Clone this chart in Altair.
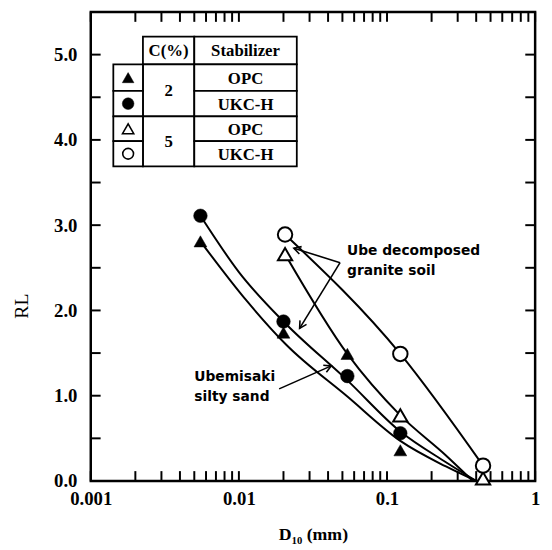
import math
import altair as alt
import pandas as pd

# ---------------- data ----------------
tri_fill_x = [0.0055, 0.020, 0.054, 0.123]      # ▲  C=2 %, OPC
tri_fill_y = [2.81, 1.74, 1.49, 0.36]
cir_fill_x = [0.0055, 0.020, 0.054, 0.123]      # ●  C=2 %, UKC-H
cir_fill_y = [3.11, 1.87, 1.23, 0.56]
tri_open_x = [0.0205, 0.123, 0.445]             # △  C=5 %, OPC
tri_open_y = [2.66, 0.77, 0.03]
cir_open_x = [0.0205, 0.123, 0.445]             # ○  C=5 %, UKC-H
cir_open_y = [2.89, 1.49, 0.18]

# fitted (hand drawn) curves
silty_a_x = [0.0055, 0.010, 0.020, 0.054, 0.123, 0.25, 0.40]
silty_a_y = [3.11, 2.45, 1.87, 1.18, 0.58, 0.22, 0.0]
silty_b_x = [0.0055, 0.0112, 0.0208, 0.054, 0.123, 0.25, 0.40]
silty_b_y = [2.81, 2.12, 1.60, 0.99, 0.47, 0.17, 0.0]
granite_a_x = [0.0205, 0.054, 0.123, 0.25, 0.38]
granite_a_y = [2.66, 1.49, 0.77, 0.30, 0.0]
granite_b_x = [0.0205, 0.123, 0.445]
granite_b_y = [2.89, 1.49, 0.18]

# axis ticks / labels
x_labels = [0.001, 0.01, 0.1, 1]
x_ticks = [m * 10.0 ** k for k in (-3, -2, -1) for m in range(1, 10)] + [1]
y_labels = [0, 1, 2, 3, 4, 5]
y_ticks = [0, 0.5, 1, 1.5, 2, 2.5, 3, 3.5, 4, 4.5, 5]

# legend table (column edges in D10, row edges in RL)
tab_cols = [0.00142, 0.00225, 0.0050, 0.0246]
tab_rows = [5.21, 4.885, 4.575, 4.275, 3.985, 3.69]
tab_head = ["C(%)", "Stabilizer"]
tab_conc = ["2", "5"]
tab_stab = ["OPC", "UKC-H", "OPC", "UKC-H"]

# annotations
note_text = ["Ube decomposed", "granite soil", "Ubemisaki", "silty sand"]
note_x = [0.0537, 0.0537, 0.0050, 0.0050]
note_y = [2.70, 2.46, 1.22, 0.99]
arrow_x1 = [0.0482, 0.0482, 0.0187]
arrow_y1 = [2.56, 2.56, 1.08]
arrow_x2 = [0.0235, 0.0257, 0.0420]
arrow_y2 = [2.73, 1.79, 1.35]

# ---------------- chart ----------------
W, H = 451, 476
XMIN, XMAX = 0.001, 1.0
YMAX = 5.5
XS = alt.Scale(type="log", domain=[XMIN, XMAX], nice=False)
YS = alt.Scale(domain=[0, YMAX], nice=False, zero=False)
SERIF = "Liberation Serif"
SANS = "DejaVu Sans"


def xpx(v):
    return (math.log10(v) + 3) / 3 * W


def ypx(v):
    return H - v / YMAX * H


AX_X = alt.Axis(orient="bottom", values=x_labels, format="~g", ticks=False, tickSize=0,
                domain=False, grid=False, labelFlush=False, labelOverlap=False,
                labelFont=SERIF, labelFontWeight="bold", labelFontSize=19,
                labelColor="black", labelPadding=9,
                title="D₁₀ (mm)", titleFont=SERIF, titleFontWeight="bold",
                titleFontSize=18, titleColor="black", titleY=54,
                titleBaseline="middle", titleAlign="center")
AX_Y = alt.Axis(orient="left", values=y_labels, format=".1f", ticks=False, tickSize=0,
                domain=False, grid=False, labelOverlap=False,
                labelFont=SERIF, labelFontWeight="bold", labelFontSize=19,
                labelColor="black", labelPadding=14,
                title="RL", titleFont=SERIF, titleFontWeight="normal",
                titleFontSize=20, titleColor="black", titleAngle=270,
                titleX=-70, titleY=298, titleAlign="center", titleBaseline="middle")


def X(field):
    return alt.X(field, scale=XS, axis=AX_X)


def Y(field):
    return alt.Y(field, scale=YS, axis=AX_Y)


# inward tick marks on all four sides (tick lengths in px converted to the scales)
ty = 10 / H * YMAX
tx_l = XMIN * 10 ** (10 / W * 3)
tx_r = XMAX / 10 ** (10 / W * 3)
xt_df = pd.DataFrame({"xt": x_ticks})
yt_df = pd.DataFrame({"yt": y_ticks})
TK = dict(color="black", strokeWidth=2)
tick_bottom = alt.Chart(xt_df.assign(a=0.0, b=ty)).mark_rule(**TK).encode(
    x=X("xt:Q"), y=Y("a:Q"), y2="b:Q")
tick_top = alt.Chart(xt_df.assign(a=YMAX - ty, b=YMAX)).mark_rule(**TK).encode(
    x=X("xt:Q"), y=Y("a:Q"), y2="b:Q")
tick_left = alt.Chart(yt_df.assign(a=XMIN, b=tx_l)).mark_rule(**TK).encode(
    y=Y("yt:Q"), x=X("a:Q"), x2="b:Q")
tick_right = alt.Chart(yt_df.assign(a=tx_r, b=XMAX)).mark_rule(**TK).encode(
    y=Y("yt:Q"), x=X("a:Q"), x2="b:Q")

# curves
curve_rows = []
for name, xs, ys in [("sa", silty_a_x, silty_a_y), ("sb", silty_b_x, silty_b_y),
                     ("ga", granite_a_x, granite_a_y), ("gb", granite_b_x, granite_b_y)]:
    for a, b in zip(xs, ys):
        curve_rows.append({"x": a, "y": b, "curve": name})
lines = alt.Chart(pd.DataFrame(curve_rows)).mark_line(
    color="black", strokeWidth=2, interpolate="monotone").encode(
    x=X("x:Q"), y=Y("y:Q"), detail="curve:N")


def markers(xs, ys, shape, filled, size, sw):
    df = pd.DataFrame({"x": xs, "y": ys})
    if filled:
        mk = alt.Chart(df).mark_point(shape=shape, filled=True, fill="black",
                                      stroke="black", strokeWidth=0.5, size=size, opacity=1)
    else:
        mk = alt.Chart(df).mark_point(shape=shape, filled=True, fill="white",
                                      stroke="black", strokeWidth=sw, size=size, opacity=1)
    return mk.encode(x=X("x:Q"), y=Y("y:Q"))


pts = [
    markers(tri_fill_x, tri_fill_y, "triangle-up", True, 170, 0),
    markers(cir_fill_x, cir_fill_y, "circle", True, 190, 0),
    markers(tri_open_x, tri_open_y, "triangle-up", False, 210, 2),
    markers(cir_open_x, cir_open_y, "circle", False, 215, 2),
]

# arrows
arr_df = pd.DataFrame({"x1": arrow_x1, "y1": arrow_y1, "x2": arrow_x2, "y2": arrow_y2})
arr_df["ang"] = [math.degrees(math.atan2(ypx(b2) - ypx(b1), xpx(a2) - xpx(a1))) % 360
                 for a1, b1, a2, b2 in zip(arrow_x1, arrow_y1, arrow_x2, arrow_y2)]
rules = alt.Chart(arr_df).mark_rule(color="black", strokeWidth=1.6).encode(
    x=X("x1:Q"), y=Y("y1:Q"), x2="x2:Q", y2="y2:Q")
heads = alt.Chart(arr_df).mark_point(
    shape="M-1,-0.55L0,0L-1,0.55", filled=False, stroke="black", strokeWidth=1.6,
    size=200, opacity=1).encode(
    x=X("x2:Q"), y=Y("y2:Q"), angle=alt.Angle("ang:Q", scale=None))

# annotation text
notes = alt.Chart(pd.DataFrame({"x": note_x, "y": note_y, "t": note_text})).mark_text(
    align="left", baseline="middle", font=SANS, fontWeight="bold", fontSize=14,
    color="black").encode(x=X("x:Q"), y=Y("y:Q"), text="t:N")

# legend table
c0, c1, c2, c3 = tab_cols
r = tab_rows
cells = [(c1, c2, r[0], r[1]), (c2, c3, r[0], r[1]),
         (c1, c2, r[1], r[3]), (c1, c2, r[3], r[5])]
for i in range(4):
    cells.append((c0, c1, r[i + 1], r[i + 2]))
    cells.append((c2, c3, r[i + 1], r[i + 2]))
cell_df = pd.DataFrame(cells, columns=["xa", "xb", "ya", "yb"])
table = alt.Chart(cell_df).mark_rect(fill="white", stroke="black", strokeWidth=1.8).encode(
    x=X("xa:Q"), x2="xb:Q", y=Y("ya:Q"), y2="yb:Q")


def gmid(a, b):
    return math.sqrt(a * b)


txt_rows = [
    (gmid(c1, c2), (r[0] + r[1]) / 2, tab_head[0]),
    (gmid(c2, c3), (r[0] + r[1]) / 2, tab_head[1]),
    (gmid(c1, c2), (r[1] + r[3]) / 2, tab_conc[0]),
    (gmid(c1, c2), (r[3] + r[5]) / 2, tab_conc[1]),
]
for i, s in enumerate(tab_stab):
    txt_rows.append((gmid(c2, c3), (r[i + 1] + r[i + 2]) / 2, s))
table_txt = alt.Chart(pd.DataFrame(txt_rows, columns=["x", "y", "t"])).mark_text(
    align="center", baseline="middle", font=SERIF, fontWeight="bold", fontSize=17,
    color="black", dy=1).encode(x=X("x:Q"), y=Y("y:Q"), text="t:N")

sx = gmid(c0, c1)
leg = [
    markers([sx], [(r[1] + r[2]) / 2], "triangle-up", True, 140, 0),
    markers([sx], [(r[2] + r[3]) / 2], "circle", True, 140, 0),
    markers([sx], [(r[3] + r[4]) / 2], "triangle-up", False, 130, 1.6),
    markers([sx], [(r[4] + r[5]) / 2], "circle", False, 120, 1.6),
]

chart = alt.layer(lines, rules, heads, *pts, table, table_txt, *leg, notes,
                  tick_bottom, tick_top, tick_left, tick_right).properties(
    width=W, height=H,
    autosize=alt.AutoSizeParams(type="none"),
    padding={"left": 84, "top": 0, "right": 9, "bottom": 66},
    background="white",
).configure_view(stroke="black", strokeWidth=2.5)

chart.save("out.html", embed_options={"renderer": "svg", "actions": False})
